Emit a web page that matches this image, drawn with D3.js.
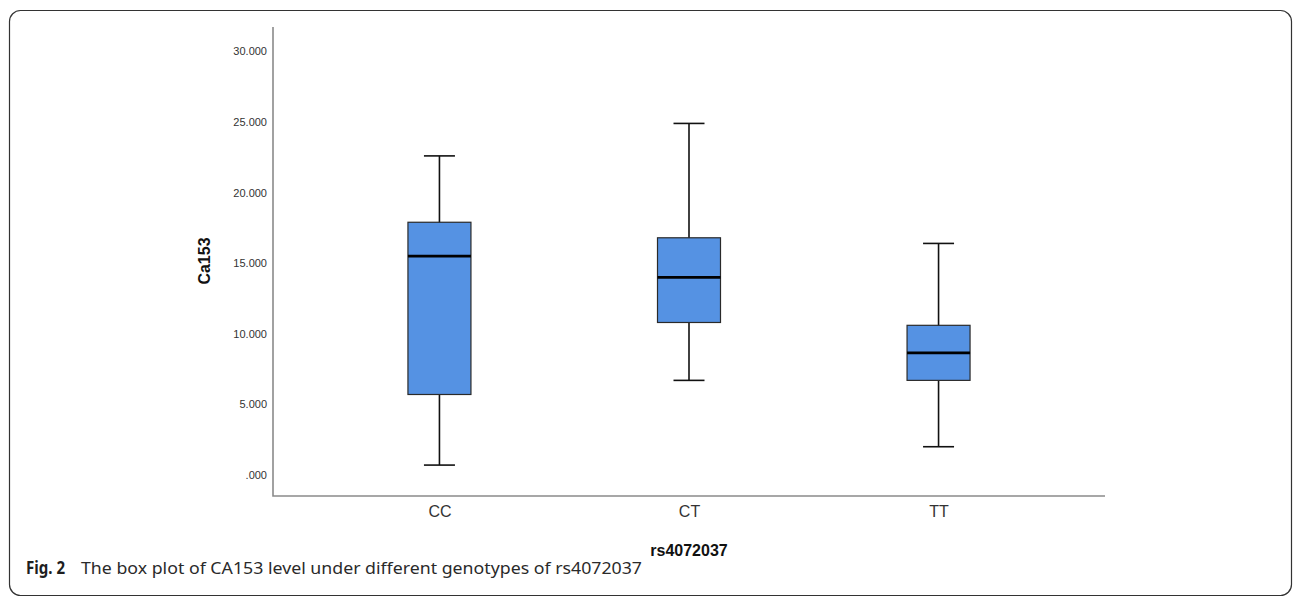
<!DOCTYPE html>
<html>
<head>
<meta charset="utf-8">
<script src="https://cdn.jsdelivr.net/npm/d3@7"></script>
<style>
  body { margin: 0; background: #fff; }
</style>
</head>
<body>
<div id="chart"></div>
<script>
// genotypes and box stats
var genotypes = ["CC", "CT", "TT"];
var whiskerLow = [0.7, 6.7, 2.0];
var q1 = [5.7, 10.8, 6.7];
var median = [15.5, 14.0, 8.65];
var q3 = [17.9, 16.8, 10.6];
var whiskerHigh = [22.6, 24.9, 16.4];
var yTicks = [0, 5, 10, 15, 20, 25, 30];

var svgWidth = 1295;
var svgHeight = 598;

var svg = d3.select("#chart")
  .append("svg")
  .attr("width", svgWidth)
  .attr("height", svgHeight);

// rounded frame round the figure
svg.append("rect")
  .attr("x", 9.5)
  .attr("y", 10.5)
  .attr("width", 1282)
  .attr("height", 585)
  .attr("rx", 11)
  .attr("fill", "none")
  .attr("stroke", "#333")
  .attr("stroke-width", 1.2);

var plot = { left: 273, right: 1105, top: 27, bottom: 496 };

var xScale = d3.scalePoint()
  .domain(genotypes)
  .range([plot.left, plot.right])
  .padding(0.667);

var yScale = d3.scaleLinear()
  .domain([-1.49, 31.73])
  .range([plot.bottom, plot.top]);

var boxes = genotypes.map(function(g, i) {
  return { g: g, lo: whiskerLow[i], q1: q1[i], med: median[i], q3: q3[i], hi: whiskerHigh[i] };
});

var boxW = 63;
var capW = 31;

var bg = svg.append("g");

// whiskers
bg.selectAll(".whisker").data(boxes).enter()
  .append("line")
  .attr("x1", d => xScale(d.g))
  .attr("x2", d => xScale(d.g))
  .attr("y1", d => yScale(d.lo))
  .attr("y2", d => yScale(d.hi))
  .attr("stroke", "#111")
  .attr("stroke-width", 1.6);

["lo", "hi"].forEach(function(k) {
  bg.selectAll(".cap-" + k).data(boxes).enter()
    .append("line")
    .attr("x1", d => xScale(d.g) - capW / 2)
    .attr("x2", d => xScale(d.g) + capW / 2)
    .attr("y1", d => yScale(d[k]))
    .attr("y2", d => yScale(d[k]))
    .attr("stroke", "#111")
    .attr("stroke-width", 1.6);
});

bg.selectAll(".box").data(boxes).enter()
  .append("rect")
  .attr("x", d => xScale(d.g) - boxW / 2)
  .attr("width", boxW)
  .attr("y", d => yScale(d.q3))
  .attr("height", d => yScale(d.q1) - yScale(d.q3))
  .attr("fill", "#5592e3")
  .attr("stroke", "#2a2a2a")
  .attr("stroke-width", 1.2);

bg.selectAll(".median").data(boxes).enter()
  .append("line")
  .attr("x1", d => xScale(d.g) - boxW / 2)
  .attr("x2", d => xScale(d.g) + boxW / 2)
  .attr("y1", d => yScale(d.med))
  .attr("y2", d => yScale(d.med))
  .attr("stroke", "#000")
  .attr("stroke-width", 2.8);

// axes
var leftAxis = d3.axisLeft(yScale)
  .tickValues(yTicks)
  .tickSize(0)
  .tickPadding(6)
  .tickFormat(d => d === 0 ? ".000" : d3.format(".3f")(d));

var yAxisG = svg.append("g")
  .attr("transform", `translate(${plot.left},0)`)
  .call(leftAxis);
yAxisG.select(".domain").remove();
yAxisG.selectAll("text")
  .style("font-family", "Liberation Sans, Arial, sans-serif")
  .style("font-size", "11px")
  .style("fill", "#333");

var bottomAxis = d3.axisBottom(xScale).tickSize(0).tickPadding(10);
var xAxisG = svg.append("g")
  .attr("transform", `translate(0,${plot.bottom})`)
  .call(bottomAxis);
xAxisG.select(".domain").remove();
xAxisG.selectAll("text")
  .style("font-family", "Liberation Sans, Arial, sans-serif")
  .style("font-size", "16px")
  .style("fill", "#333");

svg.append("path")
  .attr("d", `M${plot.left},${plot.top}V${plot.bottom}H${plot.right}`)
  .attr("fill", "none")
  .attr("stroke", "#8a8a8a")
  .attr("stroke-width", 1.6);

svg.append("text")
  .attr("transform", "translate(210,261) rotate(-90)")
  .attr("text-anchor", "middle")
  .attr("font-family", "Liberation Sans, Arial, sans-serif")
  .attr("font-size", "16px")
  .attr("font-weight", "bold")
  .attr("fill", "#111")
  .text("Ca153");

svg.append("text")
  .attr("x", xScale("CT"))
  .attr("y", 556)
  .attr("text-anchor", "middle")
  .attr("font-family", "Liberation Sans, Arial, sans-serif")
  .attr("font-size", "16px")
  .attr("font-weight", "bold")
  .attr("fill", "#111")
  .text("rs4072037");

// caption
svg.append("text")
  .attr("x", 26)
  .attr("y", 574)
  .attr("font-family", "Noto Sans, Open Sans, sans-serif")
  .attr("font-size", "17px")
  .attr("font-weight", "bold")
  .attr("fill", "#1e1e1e")
  .attr("textLength", 39)
  .attr("lengthAdjust", "spacingAndGlyphs")
  .text("Fig. 2");

svg.append("text")
  .attr("x", 81)
  .attr("y", 574)
  .attr("font-family", "Noto Sans, Open Sans, sans-serif")
  .attr("font-size", "17px")
  .attr("fill", "#2a2a2a")
  .attr("textLength", 561)
  .attr("lengthAdjust", "spacingAndGlyphs")
  .text("The box plot of CA153 level under different genotypes of rs4072037");
</script>
</body>
</html>
